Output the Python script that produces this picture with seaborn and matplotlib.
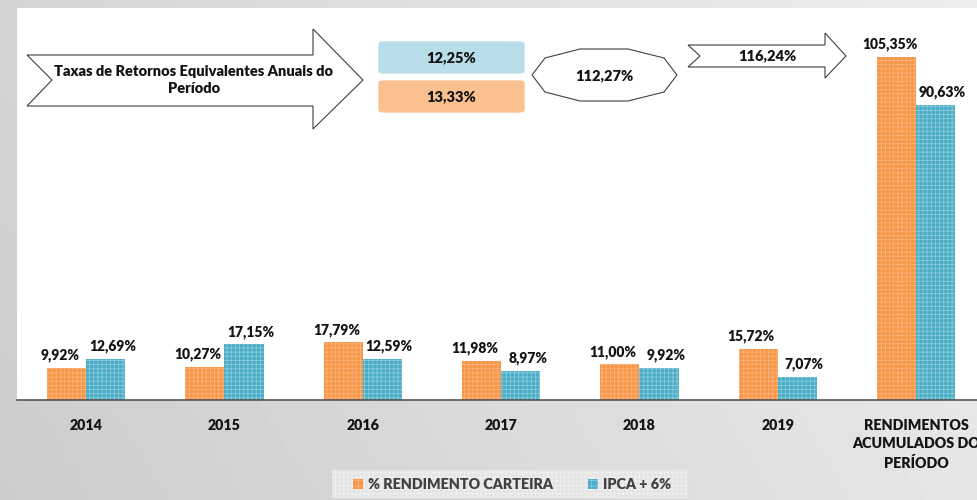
import numpy as np
import pandas as pd
import matplotlib
matplotlib.use("Agg")
import matplotlib.pyplot as plt
from matplotlib.patches import Polygon, FancyBboxPatch, Patch, Rectangle
import seaborn as sns

# ---- data -------------------------------------------------------------
categories = ["2014", "2015", "2016", "2017", "2018", "2019",
              "RENDIMENTOS\nACUMULADOS DO\nPERÍODO"]
series_names = ["% RENDIMENTO CARTEIRA", "IPCA + 6%"]
carteira = [9.92, 10.27, 17.79, 11.98, 11.00, 15.72, 105.35]
ipca6 = [12.69, 17.15, 12.59, 8.97, 9.92, 7.07, 90.63]

arrow_title = "Taxas de Retornos Equivalentes Anuais do\nPeríodo"
annual_ipca = "12,25%"
annual_carteira = "13,33%"
accum_ratio = "112,27%"
accum_ratio_arrow = "116,24%"

ORANGE = "#F79646"
ORANGE_LT = "#FBB27A"
BLUE = "#4BACC6"
BLUE_LT = "#86CADB"
TXT = "#141414"
WEIGHT = "heavy"

df = pd.DataFrame({
    "categoria": categories * 2,
    "serie": [series_names[0]] * len(categories) + [series_names[1]] * len(categories),
    "valor": carteira + ipca6,
})

W, H = 977, 500
sns.set_theme(style="white")
plt.rcParams["font.family"] = ["Lato", "DejaVu Sans"]
plt.rcParams["hatch.linewidth"] = 0.6

fig = plt.figure(figsize=(W / 100, H / 100), dpi=100)

# gray gradient background
bg = fig.add_axes([0, 0, 1, 1], zorder=-10)
gx = np.linspace(0, 1, 200)
gy = np.linspace(0, 1, 100)
GX, GY = np.meshgrid(gx, gy)
shade = 0.80 + 0.10 * GX + 0.03 * (1 - GY)
bg.imshow(shade, cmap="gray", vmin=0, vmax=1, aspect="auto", extent=[0, 1, 0, 1])
bg.set_xlim(0, 1)
bg.set_ylim(0, 1)
bg.axis("off")

ax = fig.add_axes([17 / W, 1 - 400 / H, 1 - 17 / W, (400 - 8) / H])
ax.set_facecolor("white")

sns.barplot(data=df, x="categoria", y="valor", hue="serie",
            palette=[ORANGE, BLUE], width=0.565, ax=ax, legend=False,
            saturation=1, linewidth=0)

light = {ORANGE: ORANGE_LT, BLUE: BLUE_LT}
for cont, col in zip(ax.containers, [ORANGE, BLUE]):
    for bar in cont:
        bar.set_facecolor(col)
        bar.set_edgecolor(light[col])
        bar.set_hatch("++++")
        bar.set_linewidth(0)

def fmt(v):
    return f"{v:.2f}%".replace(".", ",")

# value labels, nudged apart so neighbouring labels do not collide
for cont, dx in zip(ax.containers, [-5, 5]):
    for bar in cont:
        h = bar.get_height()
        ax.annotate(fmt(h), (bar.get_x() + bar.get_width() / 2, h),
                    xytext=(dx, 4), textcoords="offset points",
                    ha="center", va="bottom", fontsize=10,
                    fontweight=WEIGHT, color=TXT)

ax.set_ylim(0, 120.4)
ax.set_xlim(-0.5, 6.44)
ax.set_xlabel("")
ax.set_ylabel("")
ax.set_yticks([])
ax.tick_params(axis="x", length=0, pad=14)
for lbl in ax.get_xticklabels():
    lbl.set_fontweight(WEIGHT)
    lbl.set_fontsize(10.3)
    lbl.set_color(TXT)
    lbl.set_linespacing(1.45)
for side in ["top", "right", "left"]:
    ax.spines[side].set_visible(False)
ax.spines["bottom"].set_color("#555555")
ax.spines["bottom"].set_linewidth(1.2)

# ---- decorative callouts (figure pixel coordinates, y from top) --------
def P(x, y):
    return (x / W, 1 - y / H)

def poly(pts, **kw):
    p = Polygon([P(x, y) for x, y in pts], closed=True, transform=fig.transFigure,
                facecolor="white", edgecolor="#404040", linewidth=0.8, **kw)
    fig.add_artist(p)

poly([(27, 55), (313, 55), (313, 29), (363, 80), (313, 129), (313, 106),
      (27, 106), (52, 80)])
fig.text(*P(194, 80), arrow_title, ha="center", va="center", fontsize=10.5,
         fontweight=WEIGHT, color=TXT, linespacing=1.45)

for (y0, y1, col, txt) in [(41, 74, "#B7DDE8", annual_ipca),
                           (80, 113, "#FAC090", annual_carteira)]:
    x0, y0f = P(378, y1)
    w = (525 - 378) / W
    h = (y1 - y0) / H
    box = FancyBboxPatch((x0, y0f), w, h, boxstyle="round,pad=0,rounding_size=0.006",
                         transform=fig.transFigure, facecolor=col,
                         edgecolor="white", linewidth=0.5)
    fig.add_artist(box)
    fig.text(*P(451.5, (y0 + y1) / 2), txt, ha="center", va="center",
             fontsize=10.5, fontweight=WEIGHT, color=TXT)

poly([(532, 75), (545, 58), (580, 49), (628, 49), (664, 58), (677, 75),
      (664, 92), (628, 101), (580, 101), (545, 92)])
fig.text(*P(604, 76), accum_ratio, ha="center", va="center", fontsize=10.5,
         fontweight=WEIGHT, color=TXT)

poly([(688, 45), (825, 45), (825, 33), (846, 56), (825, 78), (825, 67),
      (688, 67), (700, 56)])
fig.text(*P(767, 56), accum_ratio_arrow, ha="center", va="center", fontsize=10.5,
         fontweight=WEIGHT, color=TXT)

# ---- legend -----------------------------------------------------------
lx0, ly = P(332, 498)
frame = Rectangle((lx0, ly), (688 - 332) / W, 28 / H, transform=fig.transFigure,
                  facecolor="#e4e4e4", edgecolor="#f0f0f0", hatch="++++",
                  linewidth=0)
fig.add_artist(frame)
handles = [Patch(facecolor=ORANGE, edgecolor=ORANGE_LT, hatch="+++", linewidth=0),
           Patch(facecolor=BLUE, edgecolor=BLUE_LT, hatch="+++", linewidth=0)]
leg = fig.legend(handles, series_names, loc="center", bbox_to_anchor=P(512, 484.5),
                 ncol=2, frameon=False, fontsize=10.3,
                 handlelength=0.7, handleheight=0.7, handletextpad=0.4,
                 columnspacing=2.4, borderpad=0.3)
for t in leg.get_texts():
    t.set_fontweight(WEIGHT)
    t.set_color("#404040")

fig.savefig("out.png", dpi=100)
